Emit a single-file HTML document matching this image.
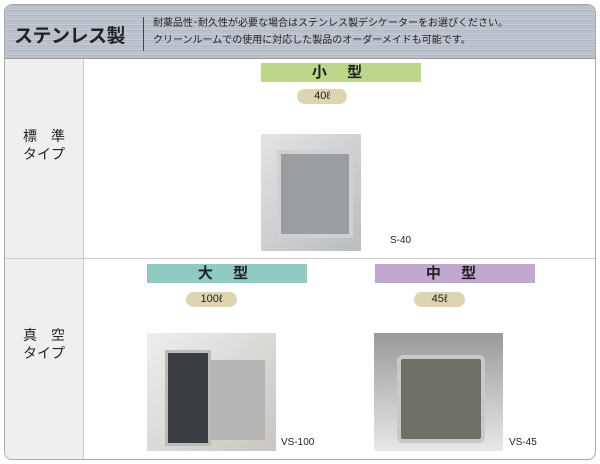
<!DOCTYPE html>
<html><head><meta charset="utf-8"><style>
body{margin:0;width:600px;height:464px;background:#fff;font-family:"Liberation Sans","Noto Sans CJK JP",sans-serif;position:relative;overflow:hidden}
.a{position:absolute}
.box{left:4px;top:4px;width:590px;height:454px;border:1px solid #aaa;border-radius:8px;overflow:hidden;background:#fff}
.hdr{left:0;top:0;width:590px;height:53px;background:repeating-linear-gradient(180deg,#a9b0bd 0,#c3c9d3 2px,#b4bbc6 3px,#cdd2da 5px);border-bottom:1px solid #999}
.lc{left:0;top:54px;width:78px;height:400px;background:#efefef;border-right:1px solid #ccc}
.bar{height:19px;font-size:15px;font-weight:bold;text-align:center;line-height:19px;letter-spacing:8px;color:#222}
.pill{height:15px;border-radius:8px;background:#ddd4b0;font-size:11px;text-align:center;line-height:15px;color:#222}
.lab{font-size:14px;color:#222;text-align:center;width:78px;line-height:18px}
.cap{font-size:10px;color:#222}
</style></head><body>
<div class="a box">
<div class="a hdr"></div>
<div class="a" style="left:9px;top:16px;font-size:19px;font-weight:bold;color:#222;letter-spacing:-0.5px">ステンレス製</div>
<div class="a" style="left:138px;top:12px;width:1px;height:34px;background:#444"></div>
<div class="a" style="left:148px;top:10px;font-size:10px;line-height:17px;color:#222">耐薬品性･耐久性が必要な場合はステンレス製デシケーターをお選びください。<br>クリーンルームでの使用に対応した製品のオーダーメイドも可能です。</div>
<div class="a lc"></div>
<div class="a" style="left:0;top:253px;width:590px;height:1px;background:#ccc"></div>
<div class="a lab" style="left:0;top:122px">標　準<br>タイプ</div>
<div class="a lab" style="left:0;top:321px">真　空<br>タイプ</div>
<div class="a bar" style="left:256px;top:58px;width:160px;background:#bcd68a">小 型</div>
<div class="a pill" style="left:292px;top:84px;width:50px">40ℓ</div>
<div class="a" style="left:256px;top:129px;width:100px;height:117px;background:linear-gradient(135deg,#e4e4e4,#b9bcc0)"></div>
<div class="a" style="left:272px;top:145px;width:68px;height:80px;background:#9a9ea2;border:4px solid #d0d0d0"></div>
<div class="a cap" style="left:385px;top:230px">S-40</div>
<div class="a bar" style="left:142px;top:259px;width:160px;background:#8fcbc0">大 型</div>
<div class="a pill" style="left:181px;top:287px;width:51px">100ℓ</div>
<div class="a" style="left:142px;top:328px;width:129px;height:118px;background:linear-gradient(135deg,#eee,#c9c5bf)"></div>
<div class="a" style="left:160px;top:345px;width:40px;height:90px;background:#3a3d42;border:3px solid #bbb"></div>
<div class="a" style="left:205px;top:355px;width:55px;height:80px;background:#b5b5b5"></div>
<div class="a cap" style="left:276px;top:432px">VS-100</div>
<div class="a bar" style="left:370px;top:259px;width:160px;background:#c1a8cf">中 型</div>
<div class="a pill" style="left:409px;top:287px;width:51px">45ℓ</div>
<div class="a" style="left:369px;top:328px;width:129px;height:118px;background:linear-gradient(180deg,#9a9a9a,#e8e8e8)"></div>
<div class="a" style="left:392px;top:350px;width:80px;height:80px;background:#6e7068;border:4px solid #c8c8c8;border-radius:6px"></div>
<div class="a cap" style="left:504px;top:432px">VS-45</div>
</div>
</body></html>
